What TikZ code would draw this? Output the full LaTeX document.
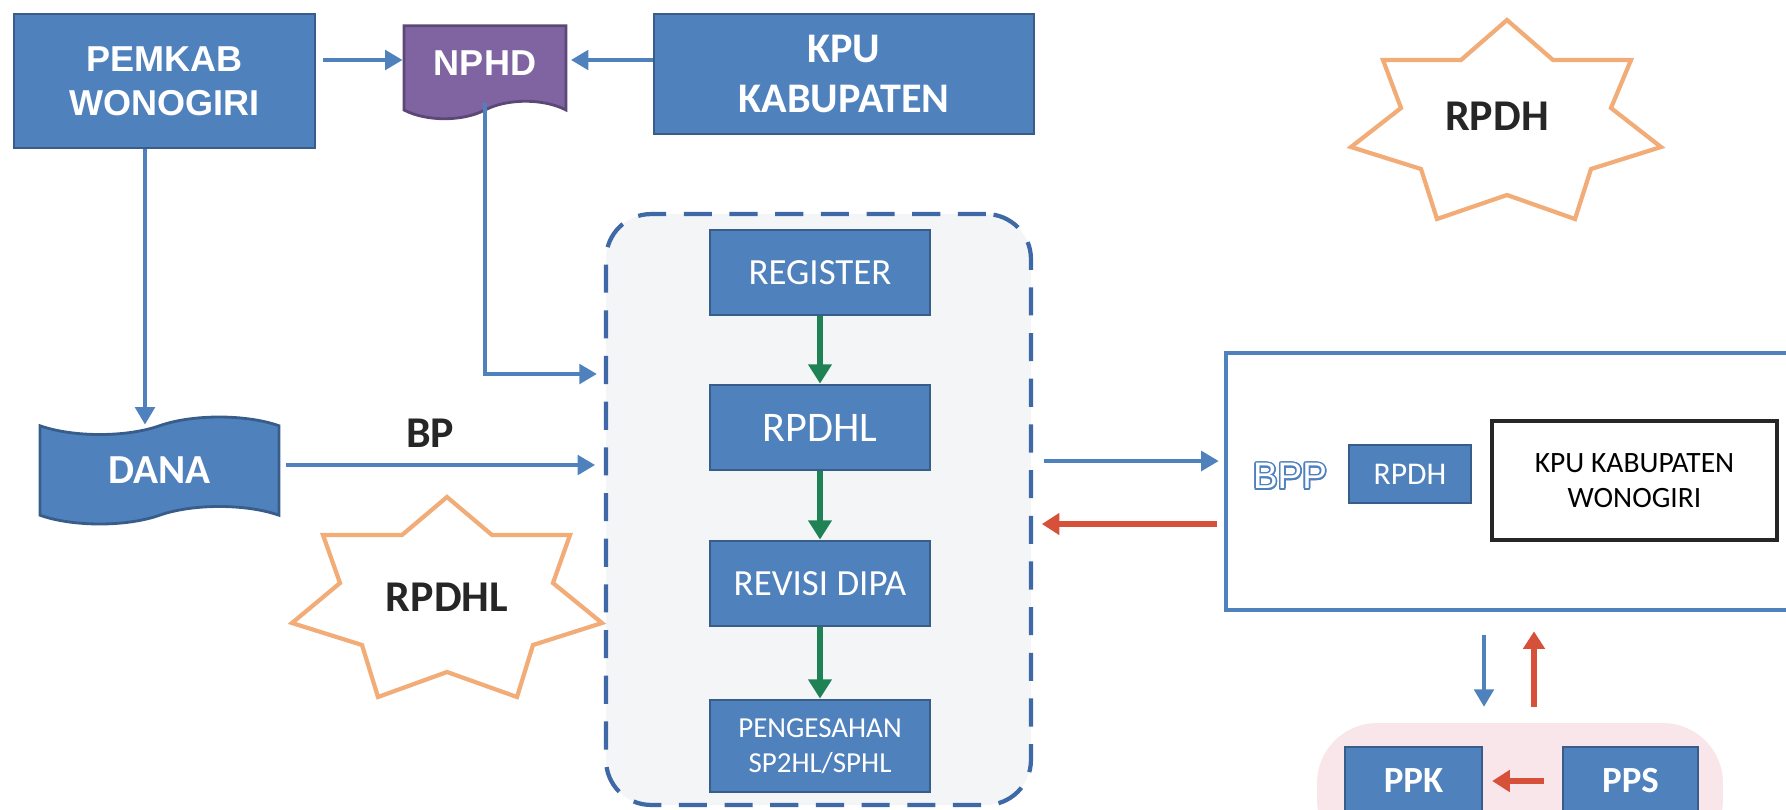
\documentclass[tikz,border=0pt]{standalone}
\usepackage{fontspec}
\setmainfont{Carlito}
\newfontfamily\arialfont{Liberation Sans}
\usepackage{contour}
\contourlength{0.9pt}
\definecolor{boxblue}{RGB}{79,129,189}
\definecolor{boxline}{RGB}{56,93,138}
\definecolor{purplefill}{RGB}{128,100,162}
\definecolor{purpleline}{RGB}{92,71,118}
\definecolor{arrowblue}{RGB}{79,129,189}
\definecolor{arrowgreen}{RGB}{30,130,85}
\definecolor{arrowred}{RGB}{214,80,58}
\definecolor{starline}{RGB}{242,172,120}
\definecolor{panelline}{RGB}{62,104,166}
\definecolor{panelfill}{RGB}{244,245,247}
\definecolor{pinkfill}{RGB}{249,230,234}
\usetikzlibrary{arrows.meta, shapes.symbols}

\begin{document}
\begin{tikzpicture}[
    x=0.02cm, y=-0.02cm,
    bluebox/.style={draw=boxline, fill=boxblue, line width=1.6pt, text=white,
      align=center, inner sep=2pt},
    docbox/.style={bluebox, tape, tape bend height=0.35cm},
    flow/.style={draw=arrowblue, line width=2.7pt, -{Triangle[length=10pt, width=11pt]}},
    back/.style={draw=arrowred, line width=3.6pt, -{Triangle[length=10pt, width=12pt]}},
    greenflow/.style={draw=arrowgreen, line width=3.8pt, -{Triangle[length=11pt, width=13pt]}},
    burst/.style={draw=starline, line width=2.4pt, line join=miter, fill=white},
    note/.style={font=\bfseries\fontsize{25}{28}\selectfont, text=black!85},
  ]
  \useasboundingbox (0,0) rectangle (1786,809);
  \clip (0,0) rectangle (1786,809);

  % top row
  \node[bluebox, minimum width=6.02cm, minimum height=2.68cm,
    font=\arialfont\bfseries\fontsize{20.5}{25}\selectfont] (pemkab) at (164.5,81) {PEMKAB\\WONOGIRI};
  \node[docbox, draw=purpleline, fill=purplefill, tape bend top=none, minimum width=3.24cm,
    minimum height=1.86cm, font=\arialfont\bfseries\fontsize{20.5}{24}\selectfont] (nphd) at (485,63.5) {NPHD};
  \node[bluebox, minimum width=7.6cm, minimum height=2.4cm,
    font=\bfseries\fontsize{24}{29}\selectfont] (kpu) at (844,74) {KPU\\KABUPATEN};
  \node[docbox, minimum width=4.78cm, minimum height=2.14cm,
    font=\bfseries\fontsize{23.5}{28}\selectfont] (dana) at (159.5,470.5) {DANA};

  % middle panel
  \node[draw=panelline, fill=panelfill, dash pattern=on 16pt off 10pt, line width=2.4pt,
    rounded corners=0.9cm, minimum width=8.5cm, minimum height=11.82cm] (panel) at (818.5,509.5) {};
  \node[bluebox, minimum width=4.4cm, minimum height=1.7cm, font=\fontsize{21}{24}\selectfont] (register) at (820,272.5) {REGISTER};
  \node[bluebox, minimum width=4.4cm, minimum height=1.7cm, font=\fontsize{24}{28}\selectfont] (rpdhl) at (820,427.5) {RPDHL};
  \node[bluebox, minimum width=4.4cm, minimum height=1.7cm, font=\fontsize{21}{24}\selectfont] (revisi) at (820,583.5) {REVISI DIPA};
  \node[bluebox, minimum width=4.4cm, minimum height=1.84cm, font=\fontsize{16.5}{20}\selectfont] (pengesahan) at (820,746) {PENGESAHAN\\SP2HL/SPHL};

  \draw[greenflow] (register) -- (rpdhl);
  \draw[greenflow] (rpdhl) -- (revisi);
  \draw[greenflow] (revisi) -- (pengesahan);

  % right side
  \node[draw=arrowblue, line width=2.3pt, fill=white, minimum width=13.48cm, minimum height=5.14cm] (bppbox) at (1563,481.5) {};
  \node[font=\arialfont\fontsize{21}{24}\selectfont] (bpptext) at (1290,477) {\contour{arrowblue}{\textcolor{white}{BPP}}};
  \node[bluebox, minimum width=2.44cm, minimum height=1.16cm, font=\fontsize{18}{22}\selectfont] (rpdhbox) at (1410,474) {RPDH};
  \node[draw=black!85, line width=2.2pt, fill=white, align=center, minimum width=5.7cm, minimum height=2.38cm,
    font=\fontsize{16.8}{20}\selectfont] (kpuwng) at (1634.5,480.5) {KPU KABUPATEN\\WONOGIRI};

  \node[fill=pinkfill, rounded corners=1.2cm, minimum width=8.12cm, minimum height=2.74cm] (ppkgroup) at (1520,791.5) {};
  \node[bluebox, minimum width=2.74cm, minimum height=1.36cm, font=\bfseries\fontsize{21}{24}\selectfont] (ppk) at (1413.5,781) {PPK};
  \node[bluebox, minimum width=2.7cm, minimum height=1.36cm, font=\bfseries\fontsize{21}{24}\selectfont] (pps) at (1630.5,781) {PPS};

  % stars
  \draw[burst] (1507,20) -- (1553,60) -- (1631,60) -- (1611,108) -- (1661,147) -- (1591,169) -- (1575,219)
    -- (1507,195) -- (1437,219) -- (1421,169) -- (1351,147) -- (1401,108) -- (1383,60) -- (1461,60) -- cycle;
  \node[note] (rpdhnote) at (1497,116) {RPDH};
  \draw[burst] (447,497) -- (492,535) -- (570,535) -- (553,583) -- (602,623) -- (533,645) -- (517,697)
    -- (447,672) -- (378,697) -- (362,645) -- (292,623) -- (340,583) -- (323,535) -- (402,535) -- cycle;
  \node[note] (rpdhlnote) at (447,597) {RPDHL};

  % connectors
  \coordinate (toprow) at (0,60);
  \coordinate (dropcol) at (145,0);
  \coordinate (nphdrow) at (0,374);
  \coordinate (bprow) at (0,465);
  \coordinate (outrow) at (0,461);
  \coordinate (backrow) at (0,524);
  \coordinate (downcol) at (1484,0);
  \coordinate (upcol) at (1534,0);

  \draw[flow, shorten <=4pt] (pemkab.east |- toprow) -- (nphd.west |- toprow);
  \draw[flow, shorten >=2pt] (kpu.west |- toprow) -- (nphd.east |- toprow);
  \draw[flow] (pemkab.south -| dropcol) -- (dana.north -| dropcol);
  \draw[flow, shorten >=4pt] (nphd.south) |- (panel.west |- nphdrow);
  \draw[flow, shorten <=3pt, shorten >=5pt] (dana.east |- bprow) -- (panel.west |- bprow);
  \node[note] (bplabel) at (430,433) {BP};
  \draw[flow, shorten <=6pt, shorten >=3pt] (panel.east |- outrow) -- (bppbox.west |- outrow);
  \draw[back, shorten <=4pt, shorten >=5pt] (bppbox.west |- backrow) -- (panel.east |- backrow);
  \draw[flow, shorten <=13pt, shorten >=9pt] (bppbox.south -| downcol) -- (ppkgroup.north -| downcol);
  \draw[back, line width=3pt, shorten <=9pt, shorten >=11pt] (ppkgroup.north -| upcol) -- (bppbox.south -| upcol);
  \draw[back, shorten <=10pt, shorten >=5pt] (pps.west) -- (ppk.east);
\end{tikzpicture}
\end{document}
